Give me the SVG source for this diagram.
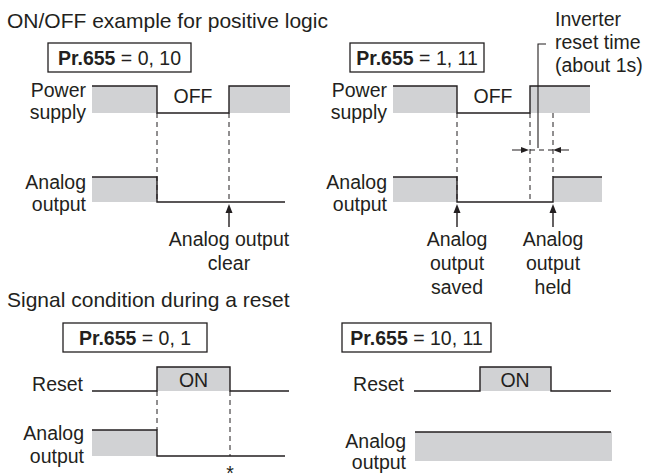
<svg xmlns="http://www.w3.org/2000/svg" width="646" height="474" viewBox="0 0 646 474">
<defs>
<style>
text{font-family:"Liberation Sans",Arial,sans-serif;fill:#231f20;font-size:19.5px}
.t{font-size:21px}
.r{text-anchor:end}
.m{text-anchor:middle}
.b{font-weight:bold}
.g{fill:#d1d2d4;stroke:none}
.s{fill:none;stroke:#231f20;stroke-width:1.4}
.d{fill:none;stroke:#231f20;stroke-width:1;stroke-dasharray:5,4}
.box{fill:#fff;stroke:#231f20;stroke-width:1.3}
.ah{fill:#231f20}
</style>
</defs>
<rect width="646" height="474" fill="#fff"/>

<text class="t" x="7" y="28">ON/OFF example for positive logic</text>
<text class="t" x="7" y="307">Signal condition during a reset</text>

<g id="panel-tl">
<rect class="box" x="48" y="43" width="143" height="29"/>
<text class="m" x="119.5" y="65"><tspan class="b">Pr.655</tspan> = 0, 10</text>
<text class="r" x="86" y="97">Power</text>
<text class="r" x="86" y="119">supply</text>
<rect class="g" x="92" y="86" width="65" height="27"/>
<rect class="g" x="229" y="86" width="61" height="27"/>
<path class="s" d="M92,86H157V113H229V86H290"/>
<text class="m" x="193" y="103">OFF</text>
<text class="r" x="86" y="189">Analog</text>
<text class="r" x="86" y="211">output</text>
<rect class="g" x="92" y="177" width="65" height="25"/>
<path class="s" d="M92,177H157V202H285"/>
<path class="d" d="M157,113V202M229,113V202"/>
<text class="m" x="229" y="246">Analog output</text>
<text class="m" x="229" y="270">clear</text>
</g>

<g id="panel-tr">
<rect class="box" x="350" y="43" width="134" height="29"/>
<text class="m" x="417" y="65"><tspan class="b">Pr.655</tspan> = 1, 11</text>
<text class="r" x="387" y="97">Power</text>
<text class="r" x="387" y="119">supply</text>
<rect class="g" x="393" y="86" width="64" height="27"/>
<rect class="g" x="530" y="86" width="60" height="27"/>
<path class="s" d="M393,86H457V113H530V86H590"/>
<text class="m" x="493" y="103">OFF</text>
<text x="555" y="26">Inverter</text>
<text x="555" y="49">reset time</text>
<text x="555" y="72">(about 1s)</text>
<text class="r" x="387" y="189">Analog</text>
<text class="r" x="387" y="211">output</text>
<rect class="g" x="393" y="177" width="64" height="25"/>
<rect class="g" x="553" y="177" width="49" height="25"/>
<path class="s" d="M393,177H457V202H553V177H602"/>
<path class="d" d="M457,113V202M530,113V202M553,113V177"/>
<text class="m" x="457" y="246">Analog</text>
<text class="m" x="457" y="270">output</text>
<text class="m" x="457" y="294">saved</text>
<text class="m" x="553" y="246">Analog</text>
<text class="m" x="553" y="270">output</text>
<text class="m" x="553" y="294">held</text>
</g>

<g id="panel-bl">
<rect class="box" x="63" y="323" width="144" height="29"/>
<text class="m" x="135" y="345"><tspan class="b">Pr.655</tspan> = 0, 1</text>
<text class="r" x="83" y="391">Reset</text>
<rect class="g" x="157" y="367" width="73" height="24"/>
<path class="s" d="M92,391H157V367H230V391H289"/>
<text class="m" x="193.5" y="387">ON</text>
<text class="r" x="84" y="440">Analog</text>
<text class="r" x="84" y="463">output</text>
<rect class="g" x="92" y="430" width="65" height="26"/>
<path class="s" d="M92,430H157V456H285"/>
<path class="d" d="M157,391V430M230,391V456"/>
<text class="m" x="230" y="480">*</text>
</g>

<g id="panel-br">
<rect class="box" x="342" y="323" width="149" height="29"/>
<text class="m" x="416.5" y="345"><tspan class="b">Pr.655</tspan> = 10, 11</text>
<text class="r" x="404" y="391">Reset</text>
<rect class="g" x="480" y="367" width="71" height="24"/>
<path class="s" d="M414,391H480V367H551V391H611"/>
<text class="m" x="515" y="387">ON</text>
<text class="r" x="406" y="448">Analog</text>
<text class="r" x="406" y="469">output</text>
<rect class="g" x="415" y="432" width="197" height="29"/>
<path class="s" d="M415,432H611"/>
</g>

<g id="connectors">
<path class="s" d="M229,212V227M457,212V227M553,212V227"/>
<polygon class="ah" points="229,204 225.5,213 232.5,213"/>
<polygon class="ah" points="457,204 453.5,213 460.5,213"/>
<polygon class="ah" points="553,204 549.5,213 556.5,213"/>
<path class="s" d="M512,150H523M569,150H559" style="stroke-width:1.1"/>
<polygon class="ah" points="529,150 521,147 521,153"/>
<polygon class="ah" points="553,150 561,147 561,153"/>
<path class="d" d="M530,150H553"/>
<path class="s" d="M538,148V44H546" style="stroke-width:1.1"/>
</g>
</svg>
